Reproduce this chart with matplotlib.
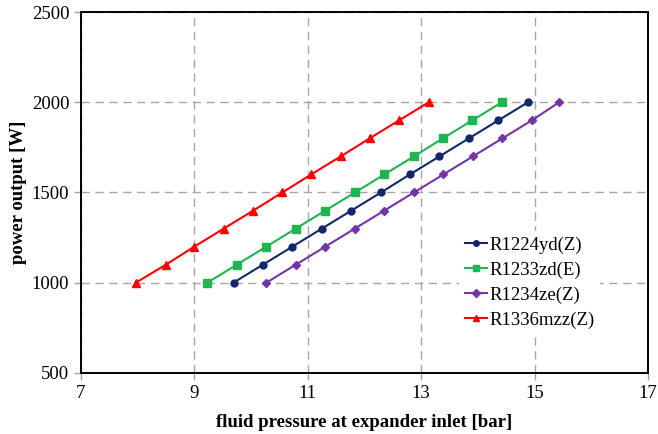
import matplotlib
matplotlib.use("Agg")
import matplotlib.pyplot as plt

power = [1000, 1100, 1200, 1300, 1400, 1500, 1600, 1700, 1800, 1900, 2000]
p_r1224yd = [9.69, 10.21, 10.73, 11.25, 11.77, 12.29, 12.80, 13.32, 13.84, 14.36, 14.88]
p_r1233zd = [9.23, 9.75, 10.27, 10.79, 11.31, 11.83, 12.35, 12.87, 13.38, 13.90, 14.42]
p_r1234ze = [10.27, 10.79, 11.31, 11.83, 12.35, 12.87, 13.39, 13.91, 14.43, 14.95, 15.43]
p_r1336mzz = [7.97, 8.50, 9.00, 9.52, 10.04, 10.55, 11.06, 11.58, 12.09, 12.61, 13.13]
labels = ["R1224yd(Z)", "R1233zd(E)", "R1234ze(Z)", "R1336mzz(Z)"]
x_ticks = [7, 9, 11, 13, 15, 17]
y_ticks = [500, 1000, 1500, 2000, 2500]

plt.rcParams['font.family'] = ['Liberation Serif', 'DejaVu Serif']

fig = plt.figure(figsize=(6.58, 4.34), dpi=100)
ax = fig.add_axes([0.123, 0.141, 0.862, 0.831])

series = [p_r1224yd, p_r1233zd, p_r1234ze, p_r1336mzz]
colors = ['#13286a', '#1fb552', '#7434a8', '#ff0000']
markers = ['o', 's', 'D', '^']
msizes = [5, 5.5, 4.5, 6]
for xs, lab, c, m, ms in zip(series, labels, colors, markers, msizes):
    ax.plot(xs, power, color=c, marker=m, markersize=ms, linewidth=1.5, label=lab)

ax.set_xlim(7, 17)
ax.set_ylim(500, 2500)
ax.set_xticks(x_ticks)
ax.set_yticks(y_ticks)
ax.grid(True, color='#a6a6a6', linestyle=(0, (6, 4)), linewidth=1.0)
ax.set_axisbelow(True)
for s in ax.spines.values():
    s.set_linewidth(1.4)
    s.set_color('black')
ax.tick_params(axis='both', labelsize=13.5, length=5, color='#a6a6a6', width=1)
ax.set_xlabel('fluid pressure at expander inlet [bar]', fontsize=13.5, fontweight='bold', labelpad=9)
ax.set_ylabel('power output [W]', fontsize=13.5, fontweight='bold', labelpad=3)

leg = ax.legend(loc='center left', bbox_to_anchor=(0.65, 0.25), fontsize=13.5,
                frameon=True, fancybox=False, framealpha=1, edgecolor='none',
                handlelength=1.2, handletextpad=0.1, labelspacing=0.42, borderpad=0.3,
                markerscale=0.8)

fig.savefig('out.png', dpi=100)
